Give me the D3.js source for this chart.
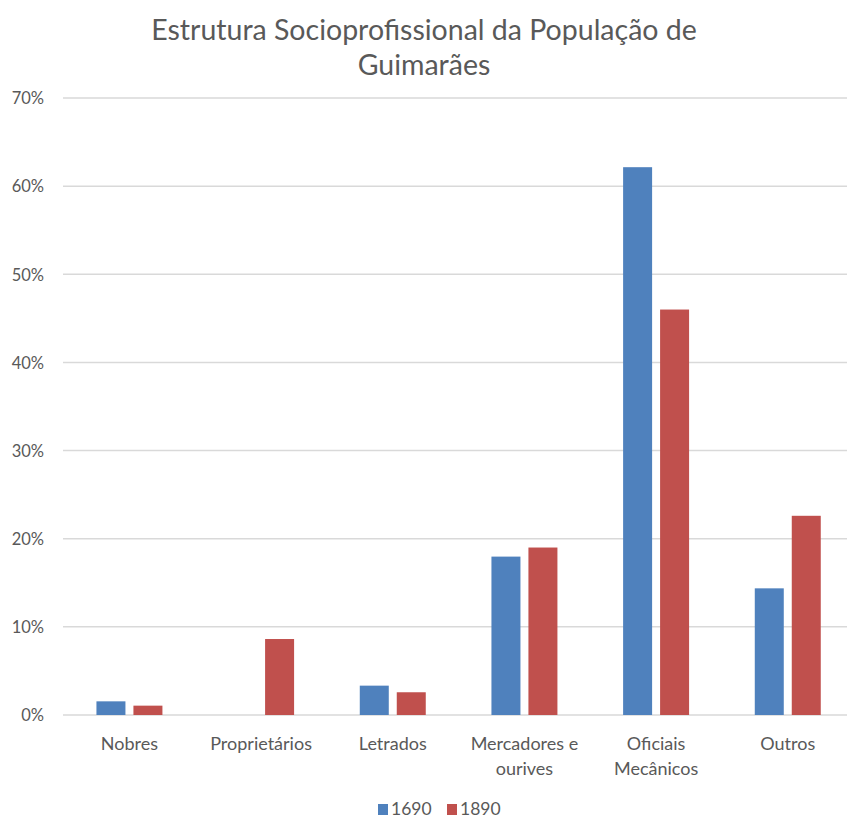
<!DOCTYPE html>
<html>
<head>
<meta charset="utf-8">
<script src="https://cdn.jsdelivr.net/npm/d3@7"></script>
<style>
  body { margin: 0; background: white; }
  text { font-family: Lato, "Open Sans", sans-serif; fill: #595959; }
</style>
</head>
<body>
<div id="container"></div>
<script>
let w = 847;
let h = 820;

// data
let categories = ["Nobres", "Proprietários", "Letrados", "Mercadores e ourives", "Oficiais Mecânicos", "Outros"];
let categoryLines = [["Nobres"], ["Proprietários"], ["Letrados"], ["Mercadores e", "ourives"], ["Oficiais", "Mecânicos"], ["Outros"]];
let series = ["1690", "1890"];
let values1690 = [0.0155, 0, 0.0333, 0.1797, 0.6215, 0.1437];
let values1890 = [0.0106, 0.0862, 0.0258, 0.190, 0.460, 0.226];
let colors = ["#4f81bd", "#c0504d"];
let yTicks = [0, 0.1, 0.2, 0.3, 0.4, 0.5, 0.6, 0.7];

let rows = categories.map((c, i) => ({ cat: c, vals: [values1690[i], values1890[i]] }));

let svg = d3.select("#container")
  .append("svg")
  .attr("width", w)
  .attr("height", h)
  .style("background-color", "white");

// title
svg.append("text")
  .attr("x", 424).attr("y", 40)
  .attr("text-anchor", "middle")
  .attr("font-size", "28.5px")
  .text("Estrutura Socioprofissional da População de");
svg.append("text")
  .attr("x", 424).attr("y", 75)
  .attr("text-anchor", "middle")
  .attr("font-size", "28.5px")
  .text("Guimarães");

// scales
let x0 = d3.scaleBand().domain(categories).range([63.6, 853.6]);
let x1 = d3.scaleBand().domain(series).range([0, x0.bandwidth()])
  .paddingInner(0.216).paddingOuter(0.888);
let y = d3.scaleLinear().domain([0, 0.7]).range([715, 98]);

// gridlines
svg.append("g").selectAll("line").data(yTicks).enter()
  .append("line")
  .attr("x1", 63).attr("x2", 853.6)
  .attr("y1", d => y(d)).attr("y2", d => y(d))
  .attr("stroke", "#d9d9d9")
  .attr("stroke-width", 1.5);

// y axis labels
let yAxis = d3.axisLeft(y).tickValues(yTicks).tickFormat(d3.format(".0%")).tickSize(0).tickPadding(0);
let yAxisGroup = svg.append("g").attr("transform", "translate(44,0)").call(yAxis);
yAxisGroup.select(".domain").remove();
yAxisGroup.selectAll("text")
  .attr("font-size", "16.5px")
  .attr("font-family", "Lato, 'Open Sans', sans-serif")
  .attr("fill", "#595959")
  .attr("dy", "0.35em");

// bars
let groups = svg.append("g").selectAll(".cat").data(rows).enter()
  .append("g")
  .attr("class", "cat")
  .attr("transform", d => "translate(" + x0(d.cat) + ",0)");

groups.selectAll("rect").data(d => d.vals.map((v, i) => ({ s: series[i], v: v, i: i }))).enter()
  .filter(d => d.v > 0)
  .append("rect")
  .attr("x", d => x1(d.s))
  .attr("width", x1.bandwidth())
  .attr("y", d => y(d.v))
  .attr("height", d => y(0) - y(d.v))
  .attr("fill", d => colors[d.i]);

// category labels
let labels = svg.append("g").selectAll("text").data(categories).enter()
  .append("text")
  .attr("text-anchor", "middle")
  .attr("font-size", "18px")
  .attr("x", d => x0(d) + x0.bandwidth() / 2)
  .attr("y", 750);

labels.each(function (d, i) {
  let t = d3.select(this);
  categoryLines[i].forEach((line, j) => {
    t.append("tspan")
      .attr("x", x0(d) + x0.bandwidth() / 2)
      .attr("dy", j == 0 ? 0 : 25)
      .text(line);
  });
});

// legend
let legendX = [378, 447];
let legend = svg.append("g").selectAll("g").data(series).enter()
  .append("g")
  .attr("transform", (d, i) => "translate(" + legendX[i] + ",804)");
legend.append("rect")
  .attr("width", 10).attr("height", 11)
  .attr("fill", (d, i) => colors[i]);
legend.append("text")
  .attr("x", 13).attr("y", 11)
  .attr("font-size", "17.5px")
  .text(d => d);
</script>
</body>
</html>
